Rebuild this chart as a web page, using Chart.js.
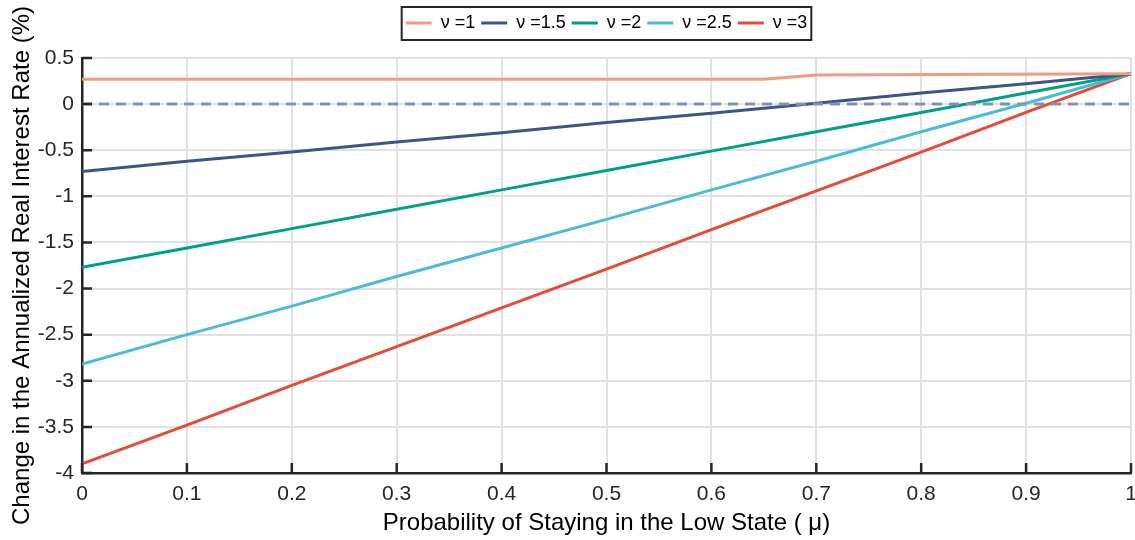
<!DOCTYPE html>
<html>
<head>
<meta charset="utf-8">
<script src="https://cdn.jsdelivr.net/npm/chart.js@4"></script>
<style>
  html, body { margin: 0; padding: 0; background: #fff; }
  #wrap { width: 1135px; height: 540px; }
</style>
</head>
<body>
<div id="wrap"><canvas id="chart"></canvas></div>
<script>
// probability grid (mu) and tick labels
const mu = [0, 0.1, 0.2, 0.3, 0.4, 0.5, 0.6, 0.7, 0.8, 0.9, 1];
const xTicks = [0, 0.1, 0.2, 0.3, 0.4, 0.5, 0.6, 0.7, 0.8, 0.9, 1];
const yTicks = [-4, -3.5, -3, -2.5, -2, -1.5, -1, -0.5, 0, 0.5];

// nu = 1 has a small kink near mu = 0.65-0.7
const muNu1 = [0, 0.65, 0.7, 1];
const rateNu1 = [0.27, 0.27, 0.315, 0.33];
const rateNu15 = [-0.73, -0.62, -0.52, -0.41, -0.31, -0.20, -0.10, 0.01, 0.12, 0.22, 0.33];
const rateNu2 = [-1.77, -1.56, -1.35, -1.14, -0.93, -0.72, -0.51, -0.30, -0.09, 0.12, 0.33];
const rateNu25 = [-2.82, -2.50, -2.19, -1.87, -1.56, -1.25, -0.93, -0.62, -0.30, 0.01, 0.33];
const rateNu3 = [-3.90, -3.48, -3.05, -2.63, -2.21, -1.79, -1.36, -0.94, -0.52, -0.09, 0.33];

const labels = ['ν =1', 'ν =1.5', 'ν =2', 'ν =2.5', 'ν =3'];
const colors = ['#F39B7F', '#3C5488', '#00A087', '#4DBBD5', '#E64B35'];

const pts = (xs, ys) => xs.map((x, i) => ({ x: x, y: ys[i] }));
const series = [pts(muNu1, rateNu1), pts(mu, rateNu15), pts(mu, rateNu2), pts(mu, rateNu25), pts(mu, rateNu3)];

const AXIS = '#262626';
const FONT = "'Liberation Sans', Arial, Helvetica, sans-serif";

const datasets = series.map((d, i) => ({
  label: labels[i],
  data: d,
  borderColor: colors[i],
  backgroundColor: colors[i],
  borderWidth: 3,
  pointRadius: 0,
  tension: 0,
  order: 1
}));
datasets.push({
  label: 'zero',
  data: [{ x: 0, y: 0 }, { x: 1, y: 0 }],
  borderColor: '#8491B4',
  borderWidth: 3,
  borderDash: [10, 7],
  pointRadius: 0,
  order: 0
});

// inward tick marks, extra room under the legend and the box round it
const axisDecor = {
  id: 'axisDecor',
  beforeLayout(chart) {
    const lg = chart.legend;
    if (lg && !lg._roomy) {
      const fit = lg.fit.bind(lg);
      lg.fit = function () { fit(); this.height += 16; };
      lg._roomy = true;
    }
  },
  afterDatasetsDraw(chart) {
    const { ctx, chartArea: a, scales: { x, y } } = chart;
    ctx.save();
    ctx.strokeStyle = AXIS;
    ctx.lineWidth = 2.5;
    ctx.beginPath();
    xTicks.forEach(v => {
      const px = x.getPixelForValue(v);
      ctx.moveTo(px, a.bottom);
      ctx.lineTo(px, a.bottom - 10);
    });
    yTicks.forEach(v => {
      const py = y.getPixelForValue(v);
      ctx.moveTo(a.left, py);
      ctx.lineTo(a.left + 10, py);
    });
    ctx.stroke();
    ctx.restore();
  },
  afterDraw(chart) {
    const boxes = chart.legend.legendHitBoxes;
    if (!boxes || !boxes.length) return;
    const l = Math.min(...boxes.map(b => b.left)) - 4;
    const r = Math.max(...boxes.map(b => b.left + b.width)) + 4;
    const t = Math.min(...boxes.map(b => b.top)) - 7;
    const btm = Math.max(...boxes.map(b => b.top + b.height)) + 8;
    const ctx = chart.ctx;
    ctx.save();
    ctx.strokeStyle = AXIS;
    ctx.lineWidth = 2;
    ctx.strokeRect(l, t, r - l, btm - t);
    ctx.restore();
  }
};

new Chart(document.getElementById('chart'), {
  type: 'line',
  data: { datasets: datasets },
  plugins: [axisDecor],
  options: {
    responsive: true,
    maintainAspectRatio: false,
    animation: false,
    layout: { padding: { top: 8, right: 4, left: 0, bottom: 0 } },
    plugins: {
      tooltip: { enabled: false },
      legend: {
        position: 'top',
        fullSize: false,
        labels: {
          usePointStyle: true,
          pointStyle: 'line',
          pointStyleWidth: 26,
          boxHeight: 16,
          padding: 6,
          color: '#000',
          font: { family: FONT, size: 18 },
          filter: item => item.text !== 'zero'
        }
      }
    },
    scales: {
      x: {
        type: 'linear',
        min: 0,
        max: 1,
        afterBuildTicks: s => { s.ticks = xTicks.map(v => ({ value: v })); },
        afterFit: s => { s.height = 67; s.paddingRight = 0; s.paddingLeft = 0; },
        ticks: {
          color: '#262626',
          padding: 9,
          maxRotation: 0,
          font: { family: FONT, size: 21 },
          callback: v => String(v)
        },
        grid: { color: '#e1e1e1', lineWidth: 2, drawTicks: false },
        border: { color: AXIS, width: 2.5 },
        title: {
          display: true,
          text: 'Probability of Staying in the Low State ( μ)',
          color: '#000',
          font: { family: FONT, size: 24 },
          padding: { top: 0, bottom: 2 }
        }
      },
      y: {
        min: -4,
        max: 0.5,
        afterBuildTicks: s => { s.ticks = yTicks.map(v => ({ value: v })); },
        afterFit: s => { s.width = 82; },
        ticks: {
          color: '#262626',
          padding: 8,
          font: { family: FONT, size: 21 },
          callback: v => String(Math.round(v * 10) / 10)
        },
        grid: { color: '#e1e1e1', lineWidth: 2, drawTicks: false },
        border: { color: AXIS, width: 2.5 },
        title: {
          display: true,
          text: 'Change in the Annualized Real Interest Rate (%)',
          color: '#000',
          font: { family: FONT, size: 24 },
          padding: { top: 8, bottom: 0 }
        }
      }
    }
  }
});
</script>
</body>
</html>
